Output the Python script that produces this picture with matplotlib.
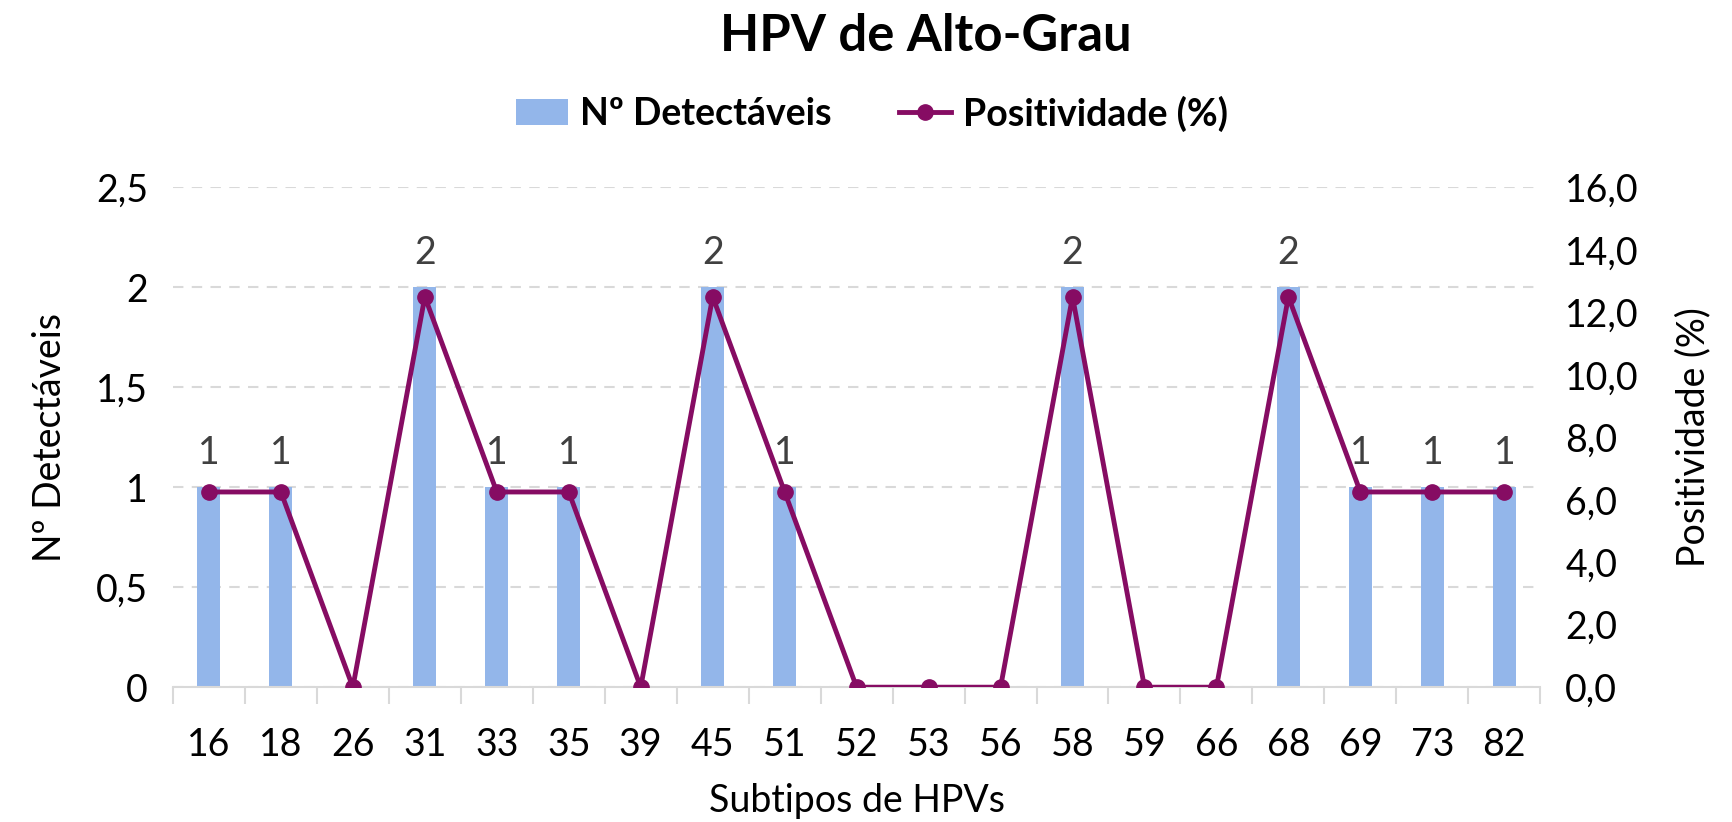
import matplotlib
matplotlib.use("Agg")
import matplotlib.pyplot as plt
from matplotlib.ticker import FuncFormatter, MultipleLocator

plt.rcParams["font.family"] = ["Lato", "DejaVu Sans"]

subtipos = ["16", "18", "26", "31", "33", "35", "39", "45", "51", "52",
            "53", "56", "58", "59", "66", "68", "69", "73", "82"]
detectaveis = [1, 1, 0, 2, 1, 1, 0, 2, 1, 0, 0, 0, 2, 0, 0, 2, 1, 1, 1]
positividade = [6.25, 6.25, 0, 12.5, 6.25, 6.25, 0, 12.5, 6.25, 0,
                0, 0, 12.5, 0, 0, 12.5, 6.25, 6.25, 6.25]

bar_color = "#93B6EA"
line_color = "#860C63"
grid_color = "#D9D9D9"
fs = 27

fig = plt.figure(figsize=(17.33, 8.22), dpi=100)
ax = fig.add_axes([0.0998, 0.164, 0.789, 0.608])
ax2 = ax.twinx()

x = list(range(len(subtipos)))
bars = ax.bar(x, detectaveis, width=0.32, color=bar_color, zorder=2,
              label="Nº Detectáveis")
for xi, v in zip(x, detectaveis):
    if v:
        ax.annotate(str(v), (xi, v), xytext=(0, 12), textcoords="offset points",
                    ha="center", va="bottom", fontsize=fs, color="#404040")

line, = ax2.plot(x, positividade, color=line_color, lw=3.5, marker="o",
                 markersize=11, zorder=3, label="Positividade (%)")

ax.set_xlim(-0.5, len(subtipos) - 0.5)
ax.set_ylim(0, 2.5)
ax2.set_ylim(0, 16)
ax.yaxis.set_major_locator(MultipleLocator(0.5))
ax2.yaxis.set_major_locator(MultipleLocator(2))
ax.yaxis.set_major_formatter(FuncFormatter(lambda v, p: ("%g" % v).replace(".", ",")))
ax2.yaxis.set_major_formatter(FuncFormatter(lambda v, p: ("%.1f" % v).replace(".", ",")))

ax.set_xticks(x)
ax.set_xticklabels(subtipos)
ax.set_xticks([i - 0.5 for i in range(len(subtipos) + 1)], minor=True)
ax.tick_params(axis="x", which="major", length=0, labelsize=fs, pad=29)
ax.tick_params(axis="x", which="minor", length=12, color=grid_color, width=1.5)
ax.tick_params(axis="y", length=0, labelsize=fs, pad=18)
ax2.tick_params(axis="y", length=0, labelsize=fs, pad=18)

ax.grid(axis="y", color=grid_color, linestyle=(0, (5, 4)), lw=1.5, zorder=0)
ax.set_axisbelow(True)
for a in (ax, ax2):
    for s in ("top", "left", "right", "bottom"):
        a.spines[s].set_visible(False)
ax.spines["bottom"].set_visible(True)
ax.spines["bottom"].set_color(grid_color)
ax.spines["bottom"].set_linewidth(1.5)

ax.set_xlabel("Subtipos de HPVs", fontsize=fs, labelpad=14)
ax.set_ylabel("Nº Detectáveis", fontsize=fs, labelpad=20)
ax2.set_ylabel("Positividade (%)", fontsize=fs, labelpad=26)

fig.text(0.534, 0.955, "HPV de Alto-Grau", ha="center", va="center",
         fontsize=36.5, fontweight="bold")
fig.legend(handles=[bars, line], loc="center", bbox_to_anchor=(0.503, 0.862),
           ncol=2, frameon=False, prop={"size": 27, "weight": "bold"},
           handlelength=1.4, handletextpad=0.3, columnspacing=1.8)

fig.savefig("out.png", dpi=100)
